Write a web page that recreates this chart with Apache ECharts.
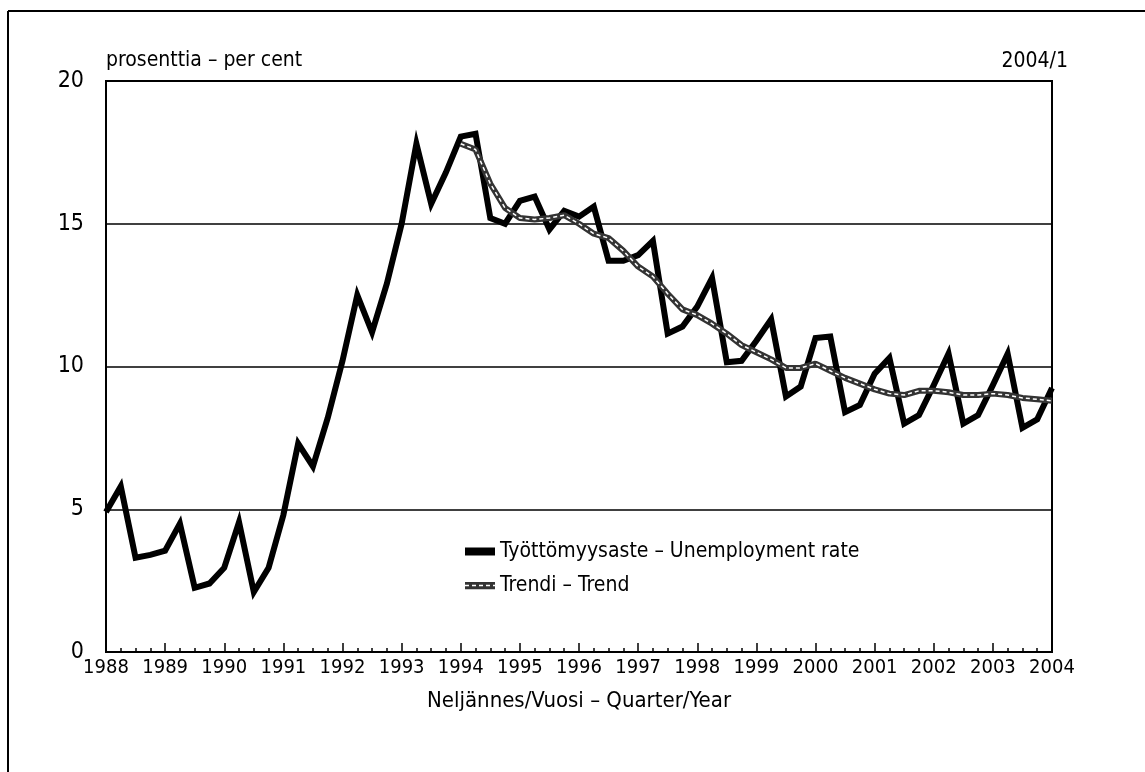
<!DOCTYPE html>
<html>
<head>
<meta charset="utf-8">
<script src="https://cdn.jsdelivr.net/npm/echarts@6/dist/echarts.min.js"></script>
<style>
html,body{margin:0;padding:0;background:#fff;}
#chart{width:1145px;height:772px;}
</style>
</head>
<body>
<div id="chart"></div>
<script>
// Quarterly data 1988/1 ... 2004/1
var startYear = 1988;
var endYear = 2004;
var yTicks = [0, 5, 10, 15, 20];
var unemployment = [
  4.9, 5.8, 3.3, 3.4,
  3.55, 4.5, 2.25, 2.4,
  2.95, 4.55, 2.1, 2.95,
  4.8, 7.3, 6.5, 8.2,
  10.2, 12.5, 11.2, 12.9,
  15.0, 17.8, 15.7, 16.8,
  18.05, 18.15, 15.2, 15.0,
  15.8, 15.95, 14.8, 15.45,
  15.25, 15.6, 13.7, 13.7,
  13.9, 14.4, 11.15, 11.4,
  12.1, 13.1, 10.15, 10.2,
  10.9, 11.65, 8.95, 9.3,
  11.0, 11.05, 8.4, 8.65,
  9.75, 10.3, 8.0, 8.3,
  9.35, 10.45, 8.0, 8.3,
  9.35, 10.45, 7.85, 8.15,
  9.25
];
var trend = [
  null, null, null, null, null, null, null, null,
  null, null, null, null, null, null, null, null,
  null, null, null, null, null, null, null, null,
  17.8, 17.6, 16.4, 15.55,
  15.2, 15.15, 15.2, 15.3,
  15.0, 14.65, 14.5, 14.05,
  13.5, 13.15, 12.55, 12.0,
  11.8, 11.5, 11.15, 10.75,
  10.5, 10.25, 9.95, 9.95,
  10.1, 9.85, 9.6, 9.4,
  9.2, 9.05, 9.0, 9.15,
  9.15, 9.1, 9.0, 9.0,
  9.05, 9.0, 8.9, 8.85,
  8.8
];
var seriesNames = ['Työttömyysaste – Unemployment rate', 'Trendi – Trend'];
var unitText = 'prosenttia – per cent';
var dateText = '2004/1';
var xTitle = 'Neljännes/Vuosi – Quarter/Year';

function toPairs(arr) {
  return arr.map(function (v, i) { return [startYear + i / 4, v]; });
}

var FONT = '"Liberation Sans Narrow", "DejaVu Sans Condensed", "Liberation Sans", Arial, sans-serif';

var trendIcon = 'image://data:image/svg+xml;utf8,' + encodeURIComponent(
  '<svg xmlns="http://www.w3.org/2000/svg" width="30" height="8">' +
  '<rect x="0" y="0" width="30" height="8" fill="#333"/>' +
  '<line x1="0" y1="4" x2="30" y2="4" stroke="#fff" stroke-width="1.5" stroke-dasharray="4,3"/>' +
  '</svg>');

var chart = echarts.init(document.getElementById('chart'), null, {renderer: 'canvas'});
chart.setOption({
  animation: false,
  backgroundColor: '#fff',
  textStyle: {fontFamily: FONT, color: '#000'},
  grid: {left: 106, right: 93, top: 81, bottom: 120, show: true, borderColor: '#000', borderWidth: 2, backgroundColor: 'transparent'},
  legend: {
    orient: 'vertical', left: 460, top: 536, itemWidth: 30, itemHeight: 8, itemGap: 13,
    textStyle: {fontFamily: FONT, fontSize: 21, color: '#000'},
    data: [
      {name: seriesNames[0], icon: 'rect', itemStyle: {color: '#000'}},
      {name: seriesNames[1], icon: trendIcon}
    ]
  },
  xAxis: {
    type: 'value', min: startYear, max: endYear, interval: 1,
    axisLine: {show: true, lineStyle: {color: '#000', width: 2}},
    axisTick: {show: true, inside: true, length: 9, lineStyle: {color: '#000', width: 1.5}},
    minorTick: {show: true, splitNumber: 4, length: 4, lineStyle: {color: '#000', width: 1.5}},
    splitLine: {show: false},
    axisLabel: {fontFamily: FONT, fontSize: 20, color: '#000', margin: 6, formatter: function (v) { return String(v); }},
    name: xTitle, nameLocation: 'middle', nameGap: 38,
    nameTextStyle: {fontFamily: FONT, fontSize: 22, color: '#000'}
  },
  yAxis: {
    type: 'value', min: yTicks[0], max: yTicks[yTicks.length - 1], interval: 5,
    axisLine: {show: true, lineStyle: {color: '#000', width: 2}},
    axisTick: {show: false},
    splitLine: {show: true, lineStyle: {color: '#000', width: 1.5}},
    axisLabel: {fontFamily: FONT, fontSize: 23, color: '#000', margin: 22}
  },
  graphic: [
    {type: 'line', shape: {x1: 8, y1: 11, x2: 1145, y2: 11}, style: {stroke: '#000', lineWidth: 2}},
    {type: 'line', shape: {x1: 8, y1: 11, x2: 8, y2: 772}, style: {stroke: '#000', lineWidth: 2}},
    {type: 'text', left: 106, top: 50, style: {text: unitText, font: '21px ' + FONT, fill: '#000'}},
    {type: 'text', right: 77, top: 51, style: {text: dateText, font: '21px ' + FONT, fill: '#000'}}
  ],
  series: [
    {
      name: seriesNames[0], type: 'line', data: toPairs(unemployment), showSymbol: false, symbol: 'none',
      lineStyle: {color: '#000', width: 6, join: 'miter'}, itemStyle: {color: '#000'}, z: 3
    },
    {
      name: seriesNames[1], type: 'line', data: toPairs(trend), showSymbol: false, symbol: 'none',
      lineStyle: {color: '#333', width: 6}, itemStyle: {color: '#333'}, z: 4
    },
    {
      name: 'trend-dash', type: 'line', data: toPairs(trend), showSymbol: false, symbol: 'none',
      lineStyle: {color: '#fff', width: 1.5, type: [4, 3]}, itemStyle: {color: '#fff'}, z: 5, silent: true
    }
  ]
});
</script>
</body>
</html>
